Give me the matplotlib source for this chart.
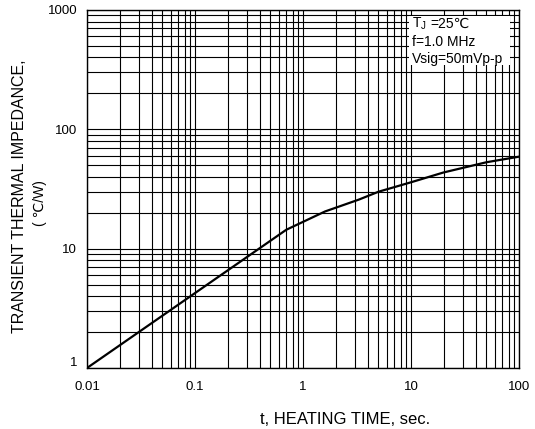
import matplotlib
matplotlib.use('Agg')
import matplotlib.pyplot as plt
from matplotlib.patches import Rectangle
import matplotlib.transforms as mtransforms

# data
t = [0.01, 0.7, 1.6, 3.3, 5, 10, 20, 50, 100]
z = [1.0, 14.4, 20.5, 25.8, 30, 36, 43.5, 53, 59]
xticks = [0.01, 0.1, 1, 10, 100]
xticklabels = ['0.01', '0.1', '1', '10', '100']
yticks = [1, 10, 100, 1000]
yticklabels = ['1', '10', '100', '1000']
conditions = ['T$_{\\mathrm{J}}$', 'f=1.0 MHz', 'Vsig=50mVp-p']
temp_text = '=25\u2103'

plt.rcParams['font.family'] = ['Liberation Sans', 'DejaVu Sans']
plt.rcParams['mathtext.fontset'] = 'custom'
plt.rcParams['mathtext.rm'] = 'Liberation Sans'
plt.rcParams['mathtext.it'] = 'Liberation Sans:italic'

W, H = 535, 429
fig = plt.figure(figsize=(W / 100, H / 100), dpi=100)
ax = fig.add_axes([87 / W, (H - 368) / H, 432 / W, 358 / H])
ax.set_xscale('log')
ax.set_yscale('log')
ax.set_xlim(0.01, 100)
ax.set_ylim(1, 1000)

ax.plot(t, z, color='black', lw=1.6, zorder=3, solid_joinstyle='round')
ax.grid(True, which='both', color='black', lw=0.8)

ax.set_xticks(xticks)
ax.set_xticklabels(xticklabels)
ax.set_yticks(yticks)
ax.set_yticklabels(yticklabels)
ax.tick_params(which='both', length=0, labelsize=9.5)
ax.tick_params(axis='y', pad=7)
ax.tick_params(axis='x', pad=9)
for s in ax.spines.values():
    s.set_color('black')
    s.set_linewidth(1.0)

# shift the '1' label up slightly like the reference
lbl = ax.get_yticklabels()[0]
lbl.set_transform(lbl.get_transform() + mtransforms.ScaledTranslation(0, 7 / 100, fig.dpi_scale_trans))

# condition box
ax.add_patch(Rectangle((0.745, 0.846), 0.234, 0.137, transform=ax.transAxes,
                       facecolor='white', edgecolor='none', zorder=2.5))
ys = [0.961, 0.911, 0.862]
for s, y in zip(conditions, ys):
    ax.text(0.752, y, s, transform=ax.transAxes, ha='left', va='center',
            fontsize=10, zorder=4)
ax.text(0.795, ys[0], temp_text, transform=ax.transAxes, ha='left', va='center',
        fontsize=10, zorder=4)

fig.text(345 / W, 1 - 424 / H, 't, HEATING TIME, sec.', ha='center', va='baseline', fontsize=12)
fig.text(20 / W, 1 - 196 / H, 'TRANSIENT THERMAL IMPEDANCE,', rotation=90,
         ha='center', va='center', fontsize=11.5)
fig.text(40 / W, 1 - 203 / H, '( \u2103/W)', rotation=90, ha='center', va='center', fontsize=10)

fig.savefig('out.png', dpi=100)
